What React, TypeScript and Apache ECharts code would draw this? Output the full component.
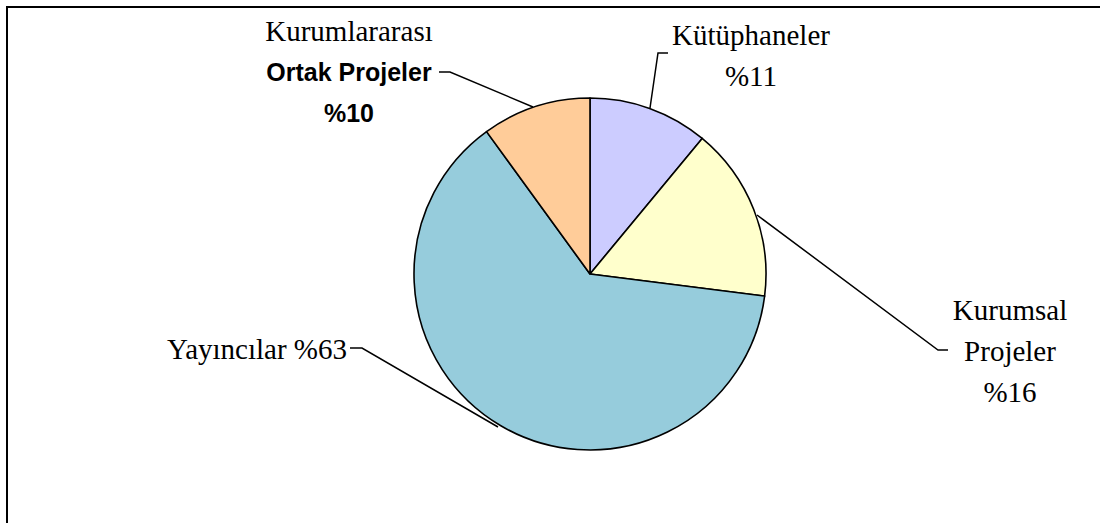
import React, { useEffect, useRef } from "react";
import * as echarts from "echarts";

const categories = ["Kütüphaneler", "Kurumsal Projeler", "Yayıncılar", "Kurumlararası Ortak Projeler"];
const values = [11, 16, 63, 10];
const colors = ["#CCCCFF", "#FFFFCC", "#96CCDC", "#FFCC99"];
const labelTexts = [
  "{s|Kütüphaneler}\n{s|%11}",
  "{s|Kurumsal}\n{s|Projeler}\n{s|%16}",
  "{s|Yayıncılar %63}",
  "{a|Kurumlararası}\n{b|Ortak Projeler}\n{b|%10}",
];

const labelAnchors: { x: number; y: number; align: string; line: number[][] }[] = [
  { x: 751, y: 55, align: "center", line: [[650, 108], [658, 53], [668, 53]] },
  { x: 1010, y: 351, align: "center", line: [[757, 215], [938, 350], [948, 350]] },
  { x: 347, y: 349, align: "right", line: [[498, 427], [362, 348], [350, 348]] },
  { x: 349, y: 72, align: "center", line: [[533, 107], [450, 72], [439, 72]] },
];

export default function App() {
  const ref = useRef<HTMLDivElement>(null);
  useEffect(() => {
    document.body.style.margin = "0";
    if (!ref.current) return;
    const chart = echarts.init(ref.current, undefined, { renderer: "svg" });
    const serif = "Liberation Serif";
    chart.setOption({
      animation: false,
      backgroundColor: "#fff",
      graphic: [
        {
          type: "rect",
          shape: { x: 7, y: 7, width: 1110, height: 540 },
          style: { fill: "none", stroke: "#000", lineWidth: 2 },
          silent: true,
        },
      ],
      series: [
        {
          type: "pie",
          center: [590, 274],
          radius: 176,
          startAngle: 90,
          clockwise: true,
          data: categories.map((name, i) => ({
            name,
            value: values[i],
            itemStyle: { color: colors[i] },
            label: { formatter: labelTexts[i] },
          })),
          itemStyle: { borderColor: "#000", borderWidth: 1.6 },
          label: {
            show: true,
            position: "outside",
            color: "#000",
            fontFamily: serif,
            fontSize: 29,
            lineHeight: 41,
            align: "center",
            rich: {
              s: { fontFamily: serif, fontSize: 29, lineHeight: 41, color: "#000" },
              a: { fontFamily: serif, fontSize: 29, lineHeight: 40, color: "#000" },
              b: {
                fontFamily: "Liberation Sans",
                fontWeight: "bold",
                fontSize: 25,
                lineHeight: 41,
                color: "#000",
              },
            },
          },
          labelLine: {
            show: true,
            lineStyle: { color: "#000", width: 1.5 },
          },
          labelLayout: (params: any) => {
            const a = labelAnchors[params.dataIndex];
            return {
              x: a.x,
              y: a.y,
              align: a.align,
              verticalAlign: "middle",
              labelLinePoints: a.line,
            };
          },
          emphasis: { disabled: true },
        },
      ],
    });
    return () => chart.dispose();
  }, []);
  return <div ref={ref} style={{ width: 1100, height: 523 }} />;
}
